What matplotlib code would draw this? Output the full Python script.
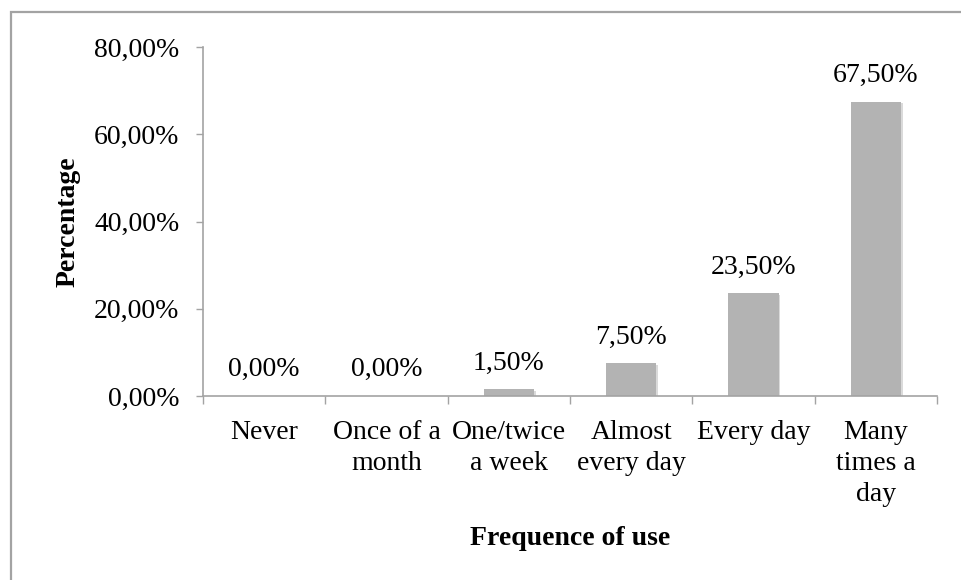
import matplotlib
matplotlib.use("Agg")
import matplotlib.pyplot as plt
import matplotlib.patheffects as pe
from matplotlib.patches import Rectangle
from matplotlib.ticker import FuncFormatter, FixedLocator

plt.rcParams['font.family'] = ['Liberation Serif', 'DejaVu Serif']

categories = ["Never", "Once of a\nmonth", "One/twice\na week",
              "Almost\nevery day", "Every day", "Many\ntimes a\nday"]
percentages = [0.0, 0.0, 1.5, 7.5, 23.5, 67.5]
y_ticks = [0, 20, 40, 60, 80]

axis_grey = '#A3A3A3'
bar_grey = '#B3B3B3'
fs = 20


def pct(v):
    return f"{v:.2f}%".replace('.', ',')


fig = plt.figure(figsize=(9.62, 5.8), dpi=100)
ax = fig.add_axes([0.211, 0.3172, 0.763, 0.6018])

# outer chart frame (only top and left edges fall inside the image)
fig.patches.append(Rectangle((0.0114, -0.2), 1.2, 1.179, transform=fig.transFigure,
                             fill=False, edgecolor=axis_grey, linewidth=1.6))

x = list(range(len(categories)))
bars = ax.bar(x, percentages, width=0.41, color=bar_grey, zorder=2)
for b in bars:
    b.set_path_effects([pe.SimplePatchShadow(offset=(1.2, -1.2), alpha=0.18), pe.Normal()])

for xi, v in zip(x, percentages):
    ax.annotate(pct(v), (xi, v), xytext=(0, 10), textcoords='offset points',
                ha='center', va='bottom', fontsize=fs)

ax.set_xlim(-0.5, len(categories) - 0.5)
ax.set_ylim(0, 80)
ax.yaxis.set_major_locator(FixedLocator(y_ticks))
ax.yaxis.set_major_formatter(FuncFormatter(lambda v, p: pct(v)))

ax.set_xticks(x)
ax.set_xticklabels(categories, fontsize=fs, linespacing=1.32)
ax.set_xticks([i - 0.5 for i in range(len(categories) + 1)], minor=True)
ax.tick_params(axis='x', which='major', length=0, pad=17)
ax.tick_params(axis='x', which='minor', length=6, width=1, color=axis_grey, direction='out')
ax.tick_params(axis='y', length=5, width=1, color=axis_grey, pad=12, labelsize=fs)

for side in ('top', 'right'):
    ax.spines[side].set_visible(False)
for side in ('left', 'bottom'):
    ax.spines[side].set_color(axis_grey)
    ax.spines[side].set_linewidth(1.2)

ax.set_ylabel('Percentage', fontsize=fs, fontweight='bold', labelpad=10)
ax.set_xlabel('Frequence of use', fontsize=fs, fontweight='bold', labelpad=14)

fig.savefig('out.png', dpi=100)
